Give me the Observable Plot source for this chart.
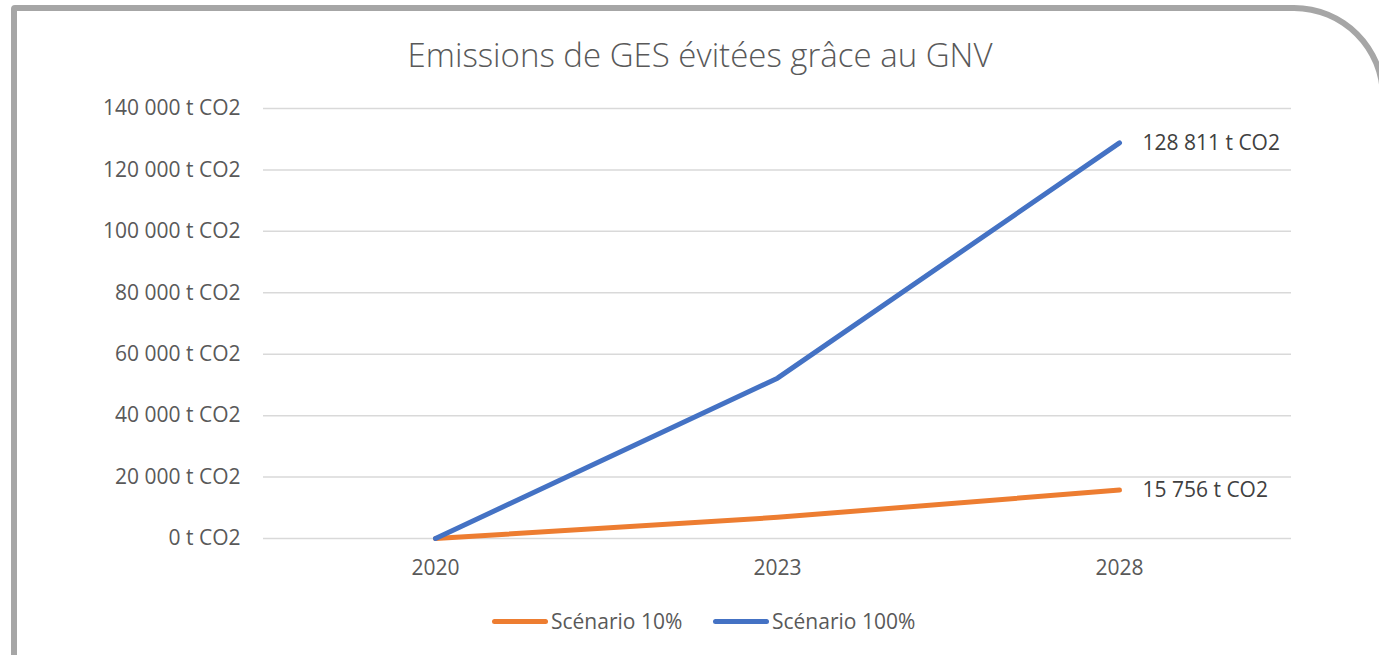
<!DOCTYPE html>
<html>
<head>
<meta charset="utf-8">
<script src="https://cdn.jsdelivr.net/npm/d3@7"></script>
<script src="https://cdn.jsdelivr.net/npm/@observablehq/plot@0.6"></script>
<style>
  html, body { margin: 0; padding: 0; background: #fff; width: 1379px; height: 655px; overflow: hidden; }
  #frame { position: absolute; left: 11px; top: 5px; width: 1363px; height: 700px; border: 6px solid #a6a6a6; border-top-right-radius: 92px; border-top-left-radius: 4px; box-sizing: content-box; }
  #title { position: absolute; left: 0; top: 38px; width: 1400px; text-align: center; font-family: "Open Sans", sans-serif; font-weight: 300; font-size: 33px; line-height: 33px; color: #595959; }
  #chart { position: absolute; left: 0; top: 0; }
  #legend { position: absolute; top: 607px; left: 0; width: 1379px; font-family: "Open Sans", sans-serif; font-size: 21px; color: #595959; }
  .item { position: absolute; display: flex; align-items: center; }
  .swatch { width: 56px; height: 5px; border-radius: 3px; margin-right: 3px; }
</style>
</head>
<body>
<div id="frame"></div>
<div id="title">Emissions de GES évitées grâce au GNV</div>
<div id="chart"></div>
<div id="legend"></div>
<script>
const years = ["2020", "2023", "2028"];
const scenario10 = [0, 6900, 15756];
const scenario100 = [0, 52200, 128811];
const seriesNames = ["Scénario 10%", "Scénario 100%"];
const seriesColors = ["#ED7D31", "#4472C4"];
const yTicks = [0, 20000, 40000, 60000, 80000, 100000, 120000, 140000];

const loc = d3.formatLocale({decimal: ",", thousands: " ", grouping: [3], currency: ["", ""]});
const fmt = d => loc.format(",")(d) + " t CO2";

const data = [];
years.forEach((y, i) => {
  data.push({year: y, value: scenario10[i], series: seriesNames[0]});
});
years.forEach((y, i) => {
  data.push({year: y, value: scenario100[i], series: seriesNames[1]});
});
const last = data.filter(d => d.year === years[years.length - 1]);

const plot = Plot.plot({
  width: 1379,
  height: 600,
  marginLeft: 263,
  marginRight: 88,
  marginTop: 108,
  marginBottom: 62,
  style: {fontFamily: "Open Sans, sans-serif", fontSize: "21px", color: "#595959", background: "transparent", overflow: "visible"},
  x: {type: "point", domain: years, padding: 0.5, label: null},
  y: {domain: [0, 140000], label: null},
  color: {domain: seriesNames, range: seriesColors},
  marks: [
    Plot.gridY(yTicks, {stroke: "#d9d9d9", strokeOpacity: 1, strokeWidth: 1.5}),
    Plot.axisY({ticks: yTicks, tickFormat: fmt, tickSize: 0, tickPadding: 23, label: null, fontSize: 21}),
    Plot.axisX({tickSize: 0, tickPadding: 22, label: null, fontSize: 21}),
    Plot.line(data, {x: "year", y: "value", z: "series", stroke: "series", strokeWidth: 5, strokeLinecap: "round", strokeLinejoin: "round"}),
    Plot.text(last, {x: "year", y: "value", text: d => fmt(d.value), textAnchor: "start", dx: 23, fill: "#404040", fontSize: 21})
  ]
});
document.getElementById("chart").appendChild(plot);

const legend = document.getElementById("legend");
const lefts = [492, 713];
seriesNames.forEach((name, i) => {
  const it = document.createElement("div");
  it.className = "item";
  it.style.left = lefts[i] + "px";
  const sw = document.createElement("div");
  sw.className = "swatch";
  sw.style.background = seriesColors[i];
  const tx = document.createElement("span");
  tx.textContent = name;
  it.appendChild(sw);
  it.appendChild(tx);
  legend.appendChild(it);
});
</script>
</body>
</html>
